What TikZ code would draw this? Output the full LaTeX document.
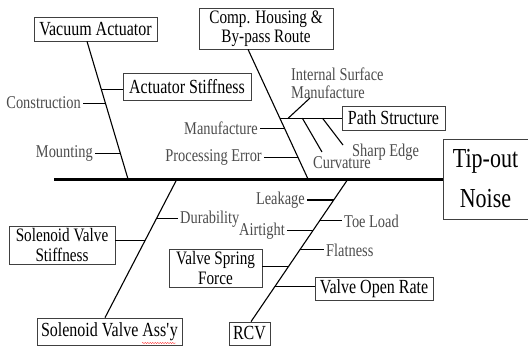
\documentclass[tikz,border=0pt]{standalone}
\usepackage{fontspec}
\setmainfont{Liberation Serif}[FakeStretch=0.8]
\usetikzlibrary{decorations.pathmorphing}
\begin{document}
\begin{tikzpicture}[x=1pt,y=-1pt,
	box/.style={draw=black!75,line width=0.7pt,inner sep=0pt,align=center,font=\fontsize{20}{17.5}\selectfont},
	twoline/.style={font=\fontsize{19}{19.5}\selectfont},
	lbl/.style={text=black!70,inner sep=2pt,align=left,font=\fontsize{18}{17}\selectfont},
	bone/.style={line width=1.1pt},
	spine/.style={line width=3pt}]
	\useasboundingbox (0,0) rectangle (528,346);
	% head and spine
		\node[box,minimum width=85,minimum height=80,font=\fontsize{27.5}{31}\selectfont] (noise) at (485.5,179) {Tip-out\\[9pt]Noise};
		\coordinate (tail) at (54,179);
		\draw[spine] (tail) -- (noise.west);
		\coordinate (s1) at (128,179);
		\coordinate (s2) at (308,179);
		\coordinate (s3) at (177,179);
		\coordinate (s4) at (348,179);
	% upper boxes
		\node[box,minimum width=123,minimum height=24] (vac) at (95.5,29) {Vacuum Actuator};
		\node[box,minimum width=128,minimum height=27] (astiff) at (187,86.5) {Actuator Stiffness};
		\node[box,twoline,minimum width=134,minimum height=41] (comp) at (266,28.5) {Comp. Housing \&\\By-pass Route};
		\node[box,minimum width=103,minimum height=24] (path) at (393.5,118) {Path Structure};
	% lower boxes
		\node[box,twoline,minimum width=106,minimum height=38] (svstiff) at (62,245) {Solenoid Valve\\Stiffness};
		\node[box,minimum width=145,minimum height=27] (svassy) at (109.5,331.5) {Solenoid Valve Ass\textquotesingle y};
		\node[box,twoline,minimum width=93,minimum height=38] (vsf) at (215.5,268) {Valve Spring\\Force};
		\node[box,minimum width=118,minimum height=23] (vor) at (374,288.5) {Valve Open Rate};
		\node[box,minimum width=41,minimum height=23] (rcv) at (249.5,333.5) {RCV};
	% labels
		\node[lbl,anchor=east] (constr) at (83,103) {Construction};
		\node[lbl,anchor=east] (mount) at (95,153) {Mounting};
		\node[lbl,anchor=west,font=\fontsize{18}{18.5}\selectfont] (isurf) at (289,83) {Internal Surface\\Manufacture};
		\node[lbl,anchor=east] (manuf) at (260,128) {Manufacture};
		\node[lbl,anchor=east] (perr) at (264,157) {Processing Error};
		\node[lbl,anchor=west] (curv) at (311,163) {Curvature};
		\node[lbl,anchor=west] (sharp) at (350,152) {Sharp Edge};
		\node[lbl,anchor=west] (dura) at (178,219) {Durability};
		\node[lbl,anchor=east] (leak) at (307,200) {Leakage};
		\node[lbl,anchor=west] (toe) at (342,221) {Toe Load};
		\node[lbl,anchor=east] (air) at (287,231) {Airtight};
		\node[lbl,anchor=west] (flat) at (324,250) {Flatness};
		\coordinate (isend) at (310,98);
		\coordinate (curvend) at (322,152);
		\coordinate (sharpend) at (343,145);
	% bones
		\draw[bone] ([xshift=-8.5]vac.south) -- coordinate[pos=.348] (v1) coordinate[pos=.449] (v2) coordinate[pos=.812] (v3) (s1);
		\draw[bone] (v1) -- (v1 -| astiff.west);
		\draw[bone] (v2) -- (v2 -| constr.east);
		\draw[bone] (v3) -- (v3 -| mount.east);
		\draw[bone] ([xshift=-18]comp.south) -- coordinate[pos=.531] (c1) coordinate[pos=.608] (c2) coordinate[pos=.831] (c3) (s2);
		\draw[bone] (c1) -- coordinate[pos=.135] (p1) coordinate[pos=.364] (p2) coordinate[pos=.69] (p3) (c1 -| path.west);
		\draw[bone] (p1) -- (isend);
		\draw[bone] (p2) -- (curvend);
		\draw[bone] (p3) -- (sharpend);
		\draw[bone] (c2) -- (c2 -| manuf.east);
		\draw[bone] (c3) -- (c3 -| perr.east);
		\draw[bone] (s3) -- coordinate[pos=.288] (d1) coordinate[pos=.446] (d2) ([xshift=-4.5]svassy.north);
		\draw[bone] (d1) -- (d1 -| dura.west);
		\draw[bone] (d2) -- (d2 -| svstiff.east);
		\draw[bone] (s4) -- coordinate[pos=.147] (r1) coordinate[pos=.294] (r2) coordinate[pos=.364] (r3) coordinate[pos=.497] (r4) coordinate[pos=.615] (r5) coordinate[pos=.755] (r6) ([xshift=1.5]rcv.north);
		\draw[bone] (r1) -- (r1 -| leak.east);
		\draw[bone] (r2) -- (r2 -| toe.west);
		\draw[bone] (r3) -- (r3 -| air.east);
		\draw[bone] (r4) -- (r4 -| flat.west);
		\draw[bone] (r5) -- (r5 -| vsf.east);
		\draw[bone] (r6) -- (r6 -| vor.west);
	% spell check mark
		\draw[red!80,line width=0.4pt,decorate,decoration={snake,amplitude=0.6pt,segment length=2.5pt}] (142,343) -- (176,343);
\end{tikzpicture}
\end{document}
